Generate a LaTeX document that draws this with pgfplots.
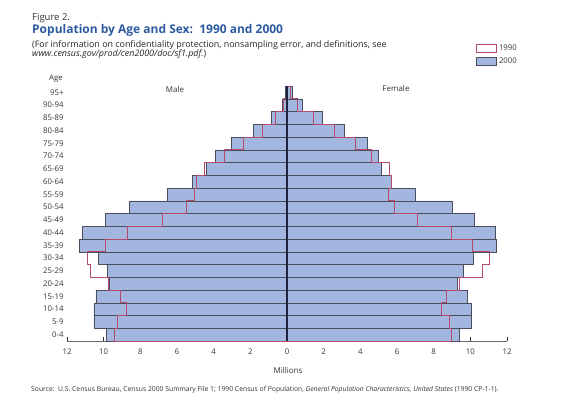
\documentclass[border=0pt]{standalone}
\usepackage{fontspec}
\setmainfont{Open Sans}
\usepackage{pgfplots}
\pgfplotsset{compat=1.18}
\definecolor{bar00}{HTML}{A2B6DF}
\definecolor{edge00}{HTML}{4A4E5C}
\definecolor{red90}{HTML}{B44A6C}
\definecolor{titleblue}{HTML}{2C5AA0}
\definecolor{zeroline}{HTML}{1C2240}
\begin{document}
\begin{tikzpicture}
\begin{axis}[
 at={(67pt,-341pt)}, anchor=south west,
 scale only axis, width=440pt, height=255pt,
 xmin=-12, xmax=12, ymin=-0.5, ymax=19.5,
 axis x line*=bottom, axis y line*=left,
 y axis line style={draw=none},
 x axis line style={draw=black!60, line width=0.6pt},
 xtick={-12,-10,...,12},
 xticklabels={12,10,8,6,4,2,0,2,4,6,8,10,12},
 xtick align=inside, major tick length=4pt,
 xtick style={draw=black!80, line width=0.6pt},
 xticklabel style={yshift=-4pt},
 ytick={0,...,19},
 yticklabels={0-4,5-9,10-14,15-19,20-24,25-29,30-34,35-39,40-44,45-49,50-54,55-59,60-64,65-69,70-74,75-79,80-84,85-89,90-94,95+},
 ytick style={draw=none},
 tick label style={font=\fontsize{7.8}{8}\selectfont, text=black!80},
 /pgf/number format/assume math mode=true,
 clip=false,
 legend style={at={(axis description cs:0.93,1.17)}, anchor=north west, draw=none, fill=none,
   inner sep=0pt, row sep=2pt, font=\fontsize{7.8}{8}\selectfont, text=black!80},
 legend cell align=left,
]
\addlegendimage{legend image code/.code={\draw[draw=red90, fill=white, line width=0.6pt] (0pt,-4pt) rectangle (20pt,4pt);}}
\addlegendentry{1990}
\addlegendimage{legend image code/.code={\draw[draw=edge00, fill=bar00, line width=0.6pt] (0pt,-4pt) rectangle (20pt,4pt);}}
\addlegendentry{2000}
% Male 2000
\addplot[xbar, bar width=1, bar shift=0, fill=bar00, draw=edge00, line width=0.5pt, forget plot] coordinates {
(-9.84,0) (-10.53,1) (-10.53,2) (-10.42,3) (-9.68,4) (-9.80,5) (-10.30,6) (-11.33,7) (-11.15,8) (-9.92,9)
(-8.59,10) (-6.51,11) (-5.15,12) (-4.39,13) (-3.90,14) (-3.04,15) (-1.82,16) (-0.87,17) (-0.27,18) (-0.08,19)};
% Female 2000
\addplot[xbar, bar width=1, bar shift=0, fill=bar00, draw=edge00, line width=0.5pt, forget plot] coordinates {
(9.38,0) (10.05,1) (10.04,2) (9.85,3) (9.31,4) (9.60,5) (10.18,6) (11.42,7) (11.35,8) (10.24,9)
(9.02,10) (7.00,11) (5.67,12) (5.13,13) (4.96,14) (4.40,15) (3.14,16) (1.94,17) (0.85,18) (0.30,19)};
% Male 1990 outline
\addplot[red90, line width=0.8pt, forget plot] coordinates {
(0,-0.5) (-9.40,-0.5) (-9.40,0.5) (-9.27,0.5) (-9.27,1.5) (-8.78,1.5) (-8.78,2.5) (-9.09,2.5) (-9.09,3.5)
(-9.72,3.5) (-9.72,4.5) (-10.73,4.5) (-10.73,5.5) (-10.88,5.5) (-10.88,6.5) (-9.90,6.5) (-9.90,7.5)
(-8.68,7.5) (-8.68,8.5) (-6.82,8.5) (-6.82,9.5) (-5.51,9.5) (-5.51,10.5) (-5.04,10.5) (-5.04,11.5)
(-4.95,11.5) (-4.95,12.5) (-4.53,12.5) (-4.53,13.5) (-3.42,13.5) (-3.42,14.5) (-2.40,14.5) (-2.40,15.5)
(-1.35,15.5) (-1.35,16.5) (-0.62,16.5) (-0.62,17.5) (-0.20,17.5) (-0.20,18.5) (-0.05,18.5) (-0.05,19.5) (0,19.5)};
% Female 1990 outline
\addplot[red90, line width=0.8pt, forget plot] coordinates {
(0,-0.5) (8.98,-0.5) (8.98,0.5) (8.87,0.5) (8.87,1.5) (8.40,1.5) (8.40,2.5) (8.67,2.5) (8.67,3.5)
(9.40,3.5) (9.40,4.5) (10.64,4.5) (10.64,5.5) (11.04,5.5) (11.04,6.5) (10.11,6.5) (10.11,7.5)
(8.95,7.5) (8.95,8.5) (7.09,8.5) (7.09,9.5) (5.84,9.5) (5.84,10.5) (5.51,10.5) (5.51,11.5)
(5.67,11.5) (5.67,12.5) (5.60,12.5) (5.60,13.5) (4.58,13.5) (4.58,14.5) (3.74,14.5) (3.74,15.5)
(2.58,15.5) (2.58,16.5) (1.45,16.5) (1.45,17.5) (0.58,17.5) (0.58,18.5) (0.20,18.5) (0.20,19.5) (0,19.5)};
% zero line
\addplot[zeroline, line width=1.6pt, forget plot] coordinates {(0,-0.5) (0,19.5)};
\end{axis}
\node[anchor=base west, inner sep=0pt, font=\fontsize{9.5}{10}\selectfont, text=black!80] at (32pt,-20.5pt) {Figure 2.};
\node[anchor=base west, inner sep=0pt, font=\bfseries\fontsize{12}{13}\selectfont, text=titleblue] at (32pt,-33.5pt) {Population by Age and Sex:\ \ 1990 and 2000};
\node[anchor=base west, inner sep=0pt, font=\fontsize{8.9}{9}\selectfont, text=black!85] at (32pt,-47pt) {(For information on confidentiality protection, nonsampling error, and definitions, see};
\node[anchor=base west, inner sep=0pt, font=\fontsize{8.9}{9}\selectfont, text=black!85] at (32pt,-56.5pt) {\textit{www.census.gov/prod/cen2000/doc/sf1.pdf.})};
\node[anchor=base, font=\fontsize{7.8}{8}\selectfont, text=black!80] at (56pt,-80pt) {Age};
\node[anchor=center, font=\fontsize{8}{8}\selectfont, text=black!80] at (175pt,-89.5pt) {Male};
\node[anchor=center, font=\fontsize{8}{8}\selectfont, text=black!80] at (396pt,-88.5pt) {Female};
\node[anchor=base, font=\fontsize{8}{8}\selectfont, text=black!80] at (288pt,-373pt) {Millions};
\node[anchor=base west, inner sep=0pt, font=\fontsize{6.8}{7}\selectfont, text=black!80] at (31pt,-391pt) {Source:\ \ U.S. Census Bureau, Census 2000 Summary File 1; 1990 Census of Population, \textit{General Population Characteristics, United States} (1990 CP-1-1).};
\pgfresetboundingbox
\path (0pt,0pt) rectangle (581pt,-405pt);
\end{tikzpicture}
\end{document}
